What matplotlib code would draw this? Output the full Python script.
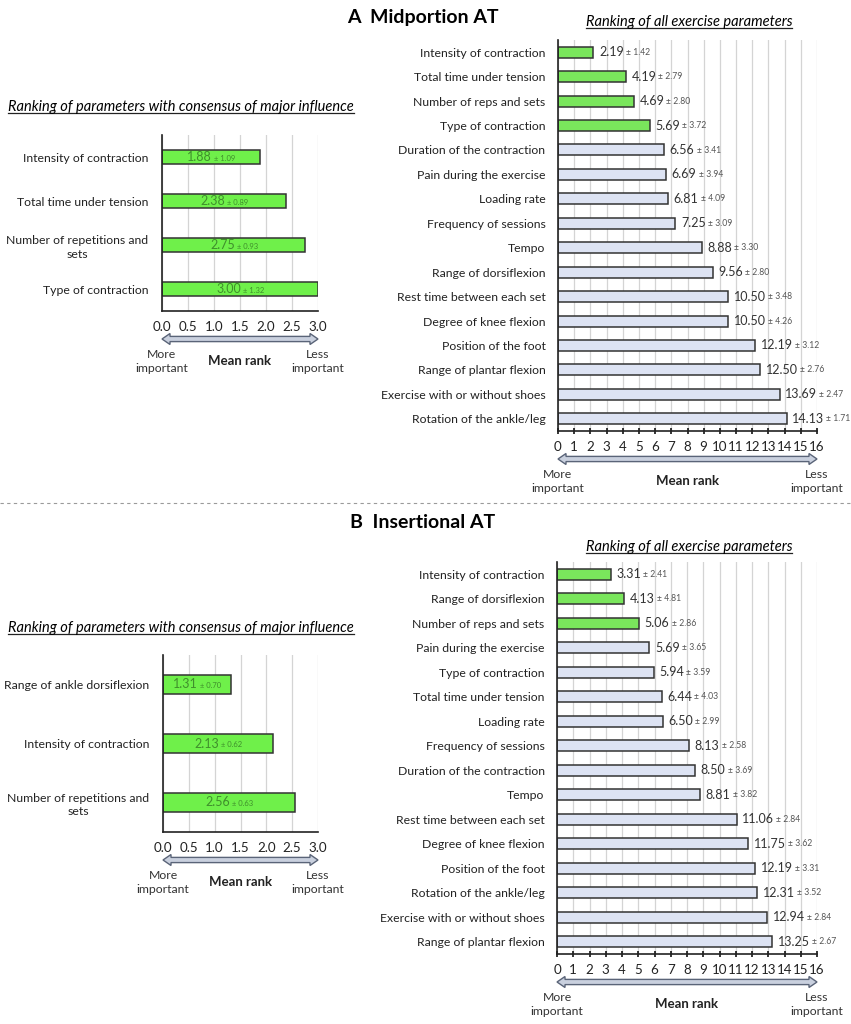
import matplotlib
matplotlib.use("Agg")
import matplotlib.pyplot as plt
from matplotlib.patches import Polygon
from matplotlib.lines import Line2D

plt.rcParams["font.family"] = ["Lato", "DejaVu Sans"]

# ---- data -------------------------------------------------------------
a_all_labels = ["Intensity of contraction", "Total time under tension",
                "Number of reps and sets", "Type of contraction",
                "Duration of the contraction", "Pain during the exercise",
                "Loading rate", "Frequency of sessions", "Tempo",
                "Range of dorsiflexion", "Rest time between each set",
                "Degree of knee flexion", "Position of the foot",
                "Range of plantar flexion", "Exercise with or without shoes",
                "Rotation of the ankle/leg"]
a_all_mean = [2.19, 4.19, 4.69, 5.69, 6.56, 6.69, 6.81, 7.25, 8.88, 9.56,
              10.50, 10.50, 12.19, 12.50, 13.69, 14.13]
a_all_sd = [1.42, 2.79, 2.80, 3.72, 3.41, 3.94, 4.09, 3.09, 3.30, 2.80,
            3.48, 4.26, 3.12, 2.76, 2.47, 1.71]
a_all_n_major = 4

a_major_labels = ["Intensity of contraction", "Total time under tension",
                  "Number of repetitions and\nsets", "Type of contraction"]
a_major_mean = [1.88, 2.38, 2.75, 3.00]
a_major_sd = [1.09, 0.89, 0.93, 1.32]

b_all_labels = ["Intensity of contraction", "Range of dorsiflexion",
                "Number of reps and sets", "Pain during the exercise",
                "Type of contraction", "Total time under tension",
                "Loading rate", "Frequency of sessions",
                "Duration of the contraction", "Tempo",
                "Rest time between each set", "Degree of knee flexion",
                "Position of the foot", "Rotation of the ankle/leg",
                "Exercise with or without shoes", "Range of plantar flexion"]
b_all_mean = [3.31, 4.13, 5.06, 5.69, 5.94, 6.44, 6.50, 8.13, 8.50, 8.81,
              11.06, 11.75, 12.19, 12.31, 12.94, 13.25]
b_all_sd = [2.41, 4.81, 2.86, 3.65, 3.59, 4.03, 2.99, 2.58, 3.69, 3.82,
            2.84, 3.62, 3.31, 3.52, 2.84, 2.67]
b_all_n_major = 3

b_major_labels = ["Range of ankle dorsiflexion", "Intensity of contraction",
                  "Number of repetitions and\nsets"]
b_major_mean = [1.31, 2.13, 2.56]
b_major_sd = [0.70, 0.62, 0.63]

# ---- styling ----------------------------------------------------------
W, H = 851, 1024
GREEN = "#6ff04a"
GREEN_R = "#7ae65c"
PALE = "#dde3f3"
EDGE = "#333333"
GRID = "#d4d4d4"

fig = plt.figure(figsize=(W / 100, H / 100), dpi=100)


def px_axes(x0, y0, x1, y1):
    return fig.add_axes([x0 / W, 1 - y1 / H, (x1 - x0) / W, (y1 - y0) / H])


def style_axes(ax, xmax, step, fmt):
    ax.set_xlim(0, xmax)
    ticks = [i * step for i in range(int(round(xmax / step)) + 1)]
    ax.set_xticks(ticks)
    ax.set_xticklabels([fmt.format(t) for t in ticks], fontsize=9.6, color="#222222")
    ax.xaxis.grid(True, color=GRID, lw=0.9)
    ax.set_axisbelow(True)
    for s in ("top", "right"):
        ax.spines[s].set_visible(False)
    for s in ("left", "bottom"):
        ax.spines[s].set_color("#222222")
        ax.spines[s].set_linewidth(1.2)
    ax.tick_params(axis="y", length=0, pad=9, labelsize=8.8, labelcolor="#222222")


def arrow_and_caption(ax, y_off):
    # hollow double-headed arrow under the axis, in axes fraction units
    bb = ax.get_position()
    wpx = bb.width * W
    hpx = bb.height * H
    hl = 8 / wpx
    sh = 2.6 / hpx
    hh = 5.5 / hpx
    y = -y_off / hpx
    pts = [(0, y), (hl, y + hh), (hl, y + sh), (1 - hl, y + sh), (1 - hl, y + hh),
           (1, y), (1 - hl, y - hh), (1 - hl, y - sh), (hl, y - sh), (hl, y - hh)]
    ax.add_patch(Polygon(pts, closed=True, transform=ax.transAxes, clip_on=False,
                         facecolor="#c9d0de", edgecolor="#5a6478", lw=1.0))
    ty = y - 10 / hpx
    ax.text(0, ty, "More\nimportant", transform=ax.transAxes, ha="center",
            va="top", fontsize=8.8, color="#333333", linespacing=1.3)
    ax.text(1, ty, "Less\nimportant", transform=ax.transAxes, ha="center",
            va="top", fontsize=8.8, color="#333333", linespacing=1.3)
    ax.text(0.5, ty - 6 / hpx, "Mean rank", transform=ax.transAxes, ha="center",
            va="top", fontsize=9.5, fontweight="bold", color="#222222")


def all_panel(box, labels, mean, sd, n_major):
    ax = px_axes(*box)
    y = list(range(len(labels)))
    colors = [GREEN_R if i < n_major else PALE for i in y]
    ax.barh(y, mean, height=0.45, color=colors, edgecolor=EDGE, lw=1.1)
    ax.set_yticks(y)
    ax.set_yticklabels(labels)
    ax.set_ylim(len(labels) - 0.5, -0.5)
    style_axes(ax, 16, 1, "{:d}")
    ax.tick_params(axis="x", length=4, direction="inout", width=1.1, pad=5)
    for yi, m, s in zip(y, mean, sd):
        t = ax.annotate(f"{m:.2f}", xy=(m, yi), xytext=(4, 0),
                        textcoords="offset points", va="center",
                        fontsize=9, color="#333333")
        ax.annotate(f"± {s:.2f}", xy=(1, 0.12), xycoords=t, xytext=(1.5, 0),
                    textcoords="offset points", va="bottom", fontsize=6.2,
                    color="#555555")
    arrow_and_caption(ax, 28)
    return ax


def major_panel(box, labels, mean, sd, height):
    ax = px_axes(*box)
    y = list(range(len(labels)))
    ax.barh(y, mean, height=height, color=GREEN, edgecolor=EDGE, lw=1.1)
    ax.set_yticks(y)
    ax.set_yticklabels(labels, multialignment="center", linespacing=1.3)
    ax.set_ylim(len(labels) - 0.5, -0.5)
    style_axes(ax, 3.0, 0.5, "{:.1f}")
    ax.tick_params(axis="y", pad=10)
    ax.tick_params(axis="x", length=0, pad=7)
    for yi, m, s in zip(y, mean, sd):
        t = ax.annotate(f"{m:.2f}", xy=(m / 2, yi), xytext=(-8, 0),
                        textcoords="offset points", ha="center", va="center",
                        fontsize=9, color="#3f8f2c")
        ax.annotate(f"± {s:.2f}", xy=(1, 0.12), xycoords=t, xytext=(1.5, 0),
                    textcoords="offset points", va="bottom", fontsize=5.5,
                    color="#3f8f2c")
    arrow_and_caption(ax, 28)
    return ax


all_panel((558, 40, 817, 431), a_all_labels, a_all_mean, a_all_sd, a_all_n_major)
all_panel((557, 562, 817, 954), b_all_labels, b_all_mean, b_all_sd, b_all_n_major)
major_panel((162, 135, 318, 311), a_major_labels, a_major_mean, a_major_sd, 0.3)
major_panel((163, 655, 318, 832), b_major_labels, b_major_mean, b_major_sd, 0.32)

# ---- headings ---------------------------------------------------------
fig.text(423 / W, 1 - 17 / H, "A  Midportion AT", ha="center", va="center",
         fontsize=14, fontweight="bold")
fig.text(423 / W, 1 - 523 / H, "B  Insertional AT", ha="center", va="center",
         fontsize=14, fontweight="bold")

titles = [
    fig.text(689 / W, 1 - 22 / H, "Ranking of all exercise parameters",
             ha="center", va="center", fontsize=10.5, style="italic"),
    fig.text(689 / W, 1 - 547 / H, "Ranking of all exercise parameters",
             ha="center", va="center", fontsize=10.5, style="italic"),
    fig.text(181 / W, 1 - 107 / H,
             "Ranking of parameters with consensus of major influence",
             ha="center", va="center", fontsize=10.5, style="italic"),
    fig.text(181 / W, 1 - 628 / H,
             "Ranking of parameters with consensus of major influence",
             ha="center", va="center", fontsize=10.5, style="italic"),
]

fig.canvas.draw()
r = fig.canvas.get_renderer()
for t in titles:
    bb = t.get_window_extent(r)
    yy = (bb.y0 + 1) / H
    fig.add_artist(Line2D([bb.x0 / W, bb.x1 / W], [yy, yy], color="#222222",
                          lw=0.9, transform=fig.transFigure))

# dashed separator between the two halves
fig.add_artist(Line2D([0, 1], [1 - 503 / H, 1 - 503 / H], color="#9a9a9a",
                      lw=0.8, ls=(0, (3, 3)), transform=fig.transFigure))

fig.savefig("out.png", dpi=100, facecolor="white")
